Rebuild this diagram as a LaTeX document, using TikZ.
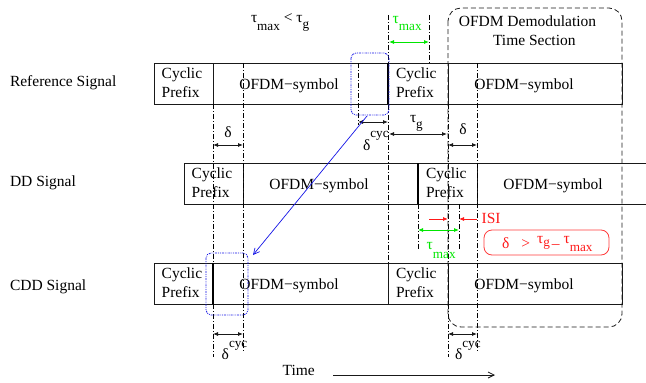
\documentclass[tikz,border=0pt]{standalone}
\usepackage{fontspec}
\setmainfont{Liberation Serif}
\usetikzlibrary{arrows.meta}
\definecolor{grn}{RGB}{0,230,0}
\definecolor{rd}{RGB}{255,25,25}
\definecolor{bl}{RGB}{20,20,230}
\newcommand{\lo}[2][7.5pt]{\raisebox{-#1}{\fontsize{13.2}{14}\selectfont #2}}
\newcommand{\hi}[2][12pt]{\raisebox{#1}{\fontsize{13.2}{14}\selectfont #2}}
\begin{document}
\begin{tikzpicture}[x=1pt,y=-1pt,
  font=\fontsize{15.5}{19}\selectfont,
  lbl/.style={inner sep=0pt, outer sep=0pt},
  cp/.style={lbl, anchor=west, align=left},
  sym/.style={lbl, anchor=base},
  rowline/.style={draw=black!90, line width=0.9pt},
  thickdiv/.style={draw=black, line width=1.7pt},
  thindiv/.style={draw=black!90, line width=0.9pt},
  vline/.style={draw=black, line width=0.7pt, dash pattern=on 5pt off 2pt on 1pt off 2pt},
  dim/.style={{Latex[length=5pt,width=4pt]}-{Latex[length=5pt,width=4pt]}, draw=black!90, line width=0.8pt},
  gdim/.style={dim, draw=grn, {Latex[length=5pt,width=4pt]}-{Latex[length=5pt,width=4pt]}},
  ract/.style={-{Latex[length=5pt,width=4pt]}, draw=rd, line width=0.8pt},
  bluebox/.style={draw=bl, line width=0.8pt, rounded corners=5pt, dash pattern=on 2pt off 1pt on 0.8pt off 1pt on 0.8pt off 1pt},
]
\useasboundingbox (0,0) rectangle (646,383);

% ---------- left labels ----------
\node[lbl, anchor=base west] (lref) at (10,86) {Reference Signal};
\node[lbl, anchor=base west] (ldd) at (10,186.7) {DD Signal};
\node[lbl, anchor=base west] (lcdd) at (10,290) {CDD Signal};

% ---------- rows ----------
% Reference
\coordinate (r1) at (154,63); \coordinate (r2) at (622,104);
\draw[rowline] (r1) rectangle (r2);
\draw[thindiv] (213,63) -- (213,104);
\draw[thickdiv] (388,63) -- (388,104);
\draw[thindiv] (448,63) -- (448,104);
% DD
\coordinate (d1) at (184,163); \coordinate (d2) at (646,204);
\draw[rowline] (646,163) -- (d1) -- (184,204) -- (646,204);
\draw[thindiv] (243,163) -- (243,204);
\draw[thickdiv] (418,163) -- (418,204);
\draw[thindiv] (477,163) -- (477,204);
% CDD
\coordinate (c1) at (154,263); \coordinate (c2) at (622,304);
\draw[rowline] (c1) rectangle (c2);
\draw[thickdiv] (213,263) -- (213,304);
\draw[thindiv] (388,263) -- (388,304);
\draw[thindiv] (448,263) -- (448,304);

% ---------- segment texts ----------
\node[cp] (rcp1) at (161.7,82.5) {Cyclic\\Prefix};
\node[cp] (rcp2) at (396,82.5) {Cyclic\\Prefix};
\node[cp] (dcp1) at (191.7,182.5) {Cyclic\\Prefix};
\node[cp] (dcp2) at (426,182.5) {Cyclic\\Prefix};
\node[cp] (ccp1) at (161.7,282.5) {Cyclic\\Prefix};
\node[cp] (ccp2) at (396,282.5) {Cyclic\\Prefix};
\node[sym] (rs1) at (289,89) {OFDM−symbol};
\node[sym] (rs2) at (524,89) {OFDM−symbol};
\node[sym] (ds1) at (319,189) {OFDM−symbol};
\node[sym] (ds2) at (553,189) {OFDM−symbol};
\node[sym] (cs1) at (289,289) {OFDM−symbol};
\node[sym] (cs2) at (524,289) {OFDM−symbol};

% ---------- vertical dash-dot guide lines ----------
\foreach \n/\x/\a/\b in {va/213/104/357, vb/243/63/352, vc/358/63/125, vd/388/15/263,
  ve/429/15/63, vf/448/104/357, vg/477/63/352, vh/418/204/250, vi/459/204/250}{
  \coordinate (\n t) at (\x,\a); \coordinate (\n b) at (\x,\b);
  \draw[vline] (\n t) -- (\n b);
}

% ---------- demodulation section ----------
\coordinate (dm1) at (448,8); \coordinate (dm2) at (622,327);
\draw[draw=black!90, line width=0.8pt, dash pattern=on 5pt off 3pt, rounded corners=13pt] (dm1) rectangle (dm2);
\node[lbl, anchor=base] (dmt1) at (527.5,26.7) {OFDM Demodulation};
\node[lbl, anchor=base] (dmt2) at (534.3,45) {Time Section};

% ---------- title ----------
\node[lbl, anchor=base west] (title) at (251,22.3) {τ\lo[8.4pt]{max} < τ\lo[6pt]{g}};

% ---------- dimension arrows ----------
\coordinate (a1l) at (213,145); \coordinate (a1r) at (243,145);
\draw[dim] (a1l) -- (a1r);
\node[lbl, anchor=base] (a1t) at (228,137) {δ};

\coordinate (a2l) at (358,122); \coordinate (a2r) at (388,122);
\draw[dim] (a2l) -- (a2r);
\node[lbl, anchor=base west] (a2t) at (363,150) {δ\hi[13pt]{cyc}};

\coordinate (a3l) at (389,134); \coordinate (a3r) at (447,134);
\draw[dim] (a3l) -- (a3r);
\node[lbl, anchor=base west] (a3t) at (410,122) {τ\lo[6.5pt]{g}};

\coordinate (a4l) at (448,145); \coordinate (a4r) at (477,145);
\draw[dim] (a4l) -- (a4r);
\node[lbl, anchor=base] (a4t) at (463,134) {δ};

\coordinate (a5l) at (213,334); \coordinate (a5r) at (243,334);
\draw[dim] (a5l) -- (a5r);
\node[lbl, anchor=base west] (a5t) at (221.7,359) {δ\hi[12pt]{cyc}};

\coordinate (a6l) at (448,334); \coordinate (a6r) at (477,334);
\draw[dim] (a6l) -- (a6r);
\node[lbl, anchor=base west] (a6t) at (455,359) {δ\hi[12pt]{cyc}};

% green
\coordinate (g1l) at (389,42); \coordinate (g1r) at (429,42);
\draw[gdim] (g1l) -- (g1r);
\node[lbl, anchor=base west, text=grn] (g1t) at (392.7,23) {τ\lo[7pt]{max}};

\coordinate (g2l) at (418,230); \coordinate (g2r) at (459,230);
\draw[gdim] (g2l) -- (g2r);
\node[lbl, anchor=base west, text=grn] (g2t) at (426.7,249) {τ\lo[9pt]{max}};

% ISI
\coordinate (i1s) at (429,219); \coordinate (i1e) at (448,219);
\coordinate (i2s) at (477,219); \coordinate (i2e) at (459,219);
\draw[ract] (i1s) -- (i1e);
\draw[ract] (i2s) -- (i2e);
\node[lbl, anchor=base west, text=rd] (isi) at (481.7,223) {ISI};

% condition box
\coordinate (cb1) at (484,230); \coordinate (cb2) at (609,255);
\draw[draw=rd!85, line width=0.8pt, rounded corners=8pt] (cb1) rectangle (cb2);
\node[lbl, anchor=base west, text=rd] (cond) at (502,248)
  {δ\hspace{12pt}>\hspace{7pt}\raisebox{5pt}{τ}\raisebox{2pt}{\fontsize{13.2}{14}\selectfont g}\hspace{2pt}–\hspace{4pt}\raisebox{5pt}{τ}\lo[3.7pt]{max}};

% ---------- blue highlight ----------
\coordinate (b1a) at (351,53); \coordinate (b1b) at (389,115);
\draw[bluebox] (b1a) rectangle (b1b);
\coordinate (b2a) at (206,253); \coordinate (b2b) at (248,315);
\draw[bluebox] (b2a) rectangle (b2b);
\coordinate (bs) at (367,116); \coordinate (be) at (253,255);
\draw[draw=bl, line width=0.7pt, -{Straight Barb[length=6pt,width=6pt]}] (bs) -- (be);

% ---------- time ----------
\node[lbl, anchor=base west] (time) at (282.7,375) {Time};
\coordinate (ts) at (333,375); \coordinate (te) at (495,375);
\draw[draw=black!90, line width=0.8pt, -{Straight Barb[length=6pt,width=6pt]}] (ts) -- (te);
\end{tikzpicture}
\end{document}
